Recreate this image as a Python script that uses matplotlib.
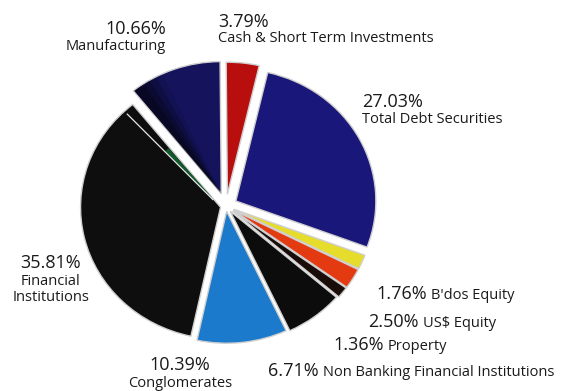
import matplotlib
matplotlib.use("Agg")
import matplotlib.pyplot as plt
from matplotlib.patches import Wedge
import numpy as np

plt.rcParams['font.family'] = ['Open Sans', 'DejaVu Sans']

# portfolio mix, clockwise from the top
sectors = ['Cash & Short Term Investments', 'Total Debt Securities', "B'dos Equity",
           'US$ Equity', 'Property', 'Non Banking Financial Institutions',
           'Conglomerates', 'Financial Institutions', 'Manufacturing']
shares = [3.79, 27.03, 1.76, 2.50, 1.36, 6.71, 10.39, 35.81, 10.66]
colors = ['#b80e0e', '#1a177a', '#e6dc2c', '#e43a12', '#1a0c08', '#0c0c0c',
          '#1b7acb', '#0e0e0e', '#15135c']
explode = [0.09, 0.08, 0.06, 0.06, 0.06, 0.05, 0.04, 0.04, 0.10]

W, H = 571, 391
fig = plt.figure(figsize=(W / 100, H / 100), dpi=100)

# pie drawn in unit coords, stretched slightly wider than tall
cx, cy, rx, ry = 226, 206, 140, 132
ax = fig.add_axes([0, 0, 1, 1])
wedges, _ = ax.pie(shares, colors=colors, explode=explode, startangle=90.5,
                   counterclock=False, frame=True,
                   wedgeprops=dict(edgecolor='#cfcfcf', linewidth=1.0))

# darker shading on the left part of Manufacturing, fading in
man = wedges[8]
for k, a in enumerate([0.25, 0.45, 0.65, 0.8]):
    ax.add_patch(Wedge(man.center, 0.995, man.theta2 - 14 + 3 * k, man.theta2 - 0.3,
                       facecolor='#050510', edgecolor='none', alpha=a * 0.5))

# thin green strip and white line inside Financial Institutions
fin = wedges[7]
fc = fin.center
ax.add_patch(Wedge(fc, 0.58, fin.theta1 + 0.8, fin.theta1 + 4,
                   width=0.48, facecolor='#10592a', edgecolor='none'))
ang = np.deg2rad(fin.theta1 + 4.5)
ax.plot([fc[0] + 0.08 * np.cos(ang), fc[0] + 0.97 * np.cos(ang)],
        [fc[1] + 0.08 * np.sin(ang), fc[1] + 0.97 * np.sin(ang)],
        color='#e8e8e8', lw=0.9)

ax.set_aspect('auto')
ax.set_xlim(-cx / rx, (W - cx) / rx)
ax.set_ylim((cy - H) / ry, cy / ry)
ax.axis('off')

# text layer in pixel coords
tx = fig.add_axes([0, 0, 1, 1])
tx.set_xlim(0, W)
tx.set_ylim(H, 0)
tx.axis('off')

big, small = 13, 10.5
col = '#1a1a1a'

# stacked labels: percentage over sector name
tx.text(166, 34, '10.66%', fontsize=big, ha='right', va='baseline', color=col)
tx.text(166, 50, 'Manufacturing', fontsize=small, ha='right', va='baseline', color=col)
tx.text(218, 27, '3.79%', fontsize=big, ha='left', va='baseline', color=col)
tx.text(218, 42, 'Cash & Short Term Investments', fontsize=small, ha='left',
        va='baseline', color=col)
tx.text(362, 107, '27.03%', fontsize=big, ha='left', va='baseline', color=col)
tx.text(362, 123, 'Total Debt Securities', fontsize=small, ha='left',
        va='baseline', color=col)
tx.text(51, 268, '35.81%', fontsize=big, ha='center', va='baseline', color=col)
tx.text(51, 285, 'Financial', fontsize=small, ha='center', va='baseline', color=col)
tx.text(51, 301, 'Institutions', fontsize=small, ha='center', va='baseline', color=col)
tx.text(180, 370, '10.39%', fontsize=big, ha='center', va='baseline', color=col)
tx.text(180, 387, 'Conglomerates', fontsize=small, ha='center', va='baseline', color=col)

# inline labels: percentage followed by sector name
inline = [(376, 299, "1.76%", "B'dos Equity"),
          (368, 327, "2.50%", "US$ Equity"),
          (333, 350, "1.36%", "Property"),
          (268, 376, "6.71%", "Non Banking Financial Institutions")]
for x, y, pct, name in inline:
    t = tx.text(x, y, pct, fontsize=big, ha='left', va='baseline', color=col)
    tx.annotate(name, xy=(1, 0), xycoords=t, xytext=(3, 0), textcoords='offset points',
                fontsize=small, ha='left', va='bottom', color=col)

fig.savefig('out.png', dpi=100)
